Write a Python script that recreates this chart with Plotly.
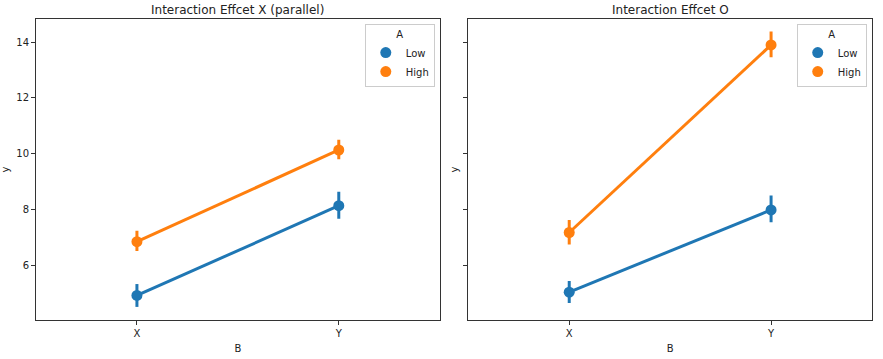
import plotly.graph_objects as go
from plotly.subplots import make_subplots

categories = ["X", "Y"]
groups = ["Low", "High"]
colors = {"Low": "#1f77b4", "High": "#ff7f0e"}

# Panel 1: Interaction Effcet X (parallel)
p1_mean = {"Low": [4.91, 8.13], "High": [6.84, 10.13]}
p1_lo = {"Low": [4.50, 7.66], "High": [6.51, 9.80]}
p1_hi = {"Low": [5.32, 8.63], "High": [7.23, 10.50]}

# Panel 2: Interaction Effcet O
p2_mean = {"Low": [5.03, 7.98], "High": [7.17, 13.90]}
p2_lo = {"Low": [4.64, 7.54], "High": [6.74, 13.46]}
p2_hi = {"Low": [5.43, 8.50], "High": [7.62, 14.38]}

titles = ["Interaction Effcet X (parallel)", "Interaction Effcet O"]

fig = make_subplots(rows=1, cols=2, shared_yaxes=True, horizontal_spacing=0.0342,
                    subplot_titles=titles)

panels = [(p1_mean, p1_lo, p1_hi, "legend"), (p2_mean, p2_lo, p2_hi, "legend2")]
for col, (mean, lo, hi, leg) in enumerate(panels, start=1):
    for g in groups:
        m = mean[g]
        plus = [h - v for h, v in zip(hi[g], m)]
        minus = [v - l for v, l in zip(m, lo[g])]
        fig.add_trace(go.Scatter(x=categories, y=m, mode="lines",
                                 line=dict(color=colors[g], width=3),
                                 showlegend=False, hoverinfo="skip"),
                      row=1, col=col)
        fig.add_trace(go.Scatter(x=categories, y=m, mode="markers", name=g,
                                 marker=dict(color=colors[g], size=11),
                                 error_y=dict(type="data", symmetric=False, array=plus,
                                              arrayminus=minus, color=colors[g],
                                              thickness=3, width=0),
                                 legend=leg, showlegend=True),
                      row=1, col=col)

axis_style = dict(showline=True, linecolor="#333333", linewidth=1, mirror=True,
                  ticks="outside", ticklen=4, tickcolor="#333333", showgrid=False,
                  zeroline=False, tickfont=dict(size=10, color="#222"), automargin=False)

fig.update_xaxes(range=[-0.5, 1.5], type="category",
                 title=dict(text="B", font=dict(size=10, color="#222"), standoff=6),
                 **axis_style)
fig.update_yaxes(range=[4.03, 14.83], tickvals=[6, 8, 10, 12, 14],
                 title=dict(text="y", font=dict(size=10, color="#222")), **axis_style)
fig.update_yaxes(showticklabels=True, row=1, col=1)
fig.update_yaxes(showticklabels=False, title_standoff=2, row=1, col=2)

legend_style = dict(bgcolor="rgba(255,255,255,0.8)", bordercolor="#cccccc", borderwidth=1,
                    font=dict(size=10, color="#222"), yanchor="top", xanchor="right",
                    title=dict(text="A", side="top center", font=dict(size=10, color="#222")),
                    itemsizing="trace", tracegroupgap=0, itemwidth=30)
fig.update_layout(
    width=883, height=359,
    margin=dict(l=36, r=11, t=19, b=39, autoexpand=False),
    paper_bgcolor="white", plot_bgcolor="white",
    font=dict(family="DejaVu Sans", size=10, color="#222"),
    legend=dict(x=0.477, y=0.983, **legend_style),
    legend2=dict(x=0.9937, y=0.983, **legend_style),
)
for ann in fig.layout.annotations:
    ann.font = dict(size=12, color="#222", family="DejaVu Sans")
    ann.yshift = 0

fig.write_html("out.html", config={"displayModeBar": False},
               post_script="document.body.style.margin='0';")
